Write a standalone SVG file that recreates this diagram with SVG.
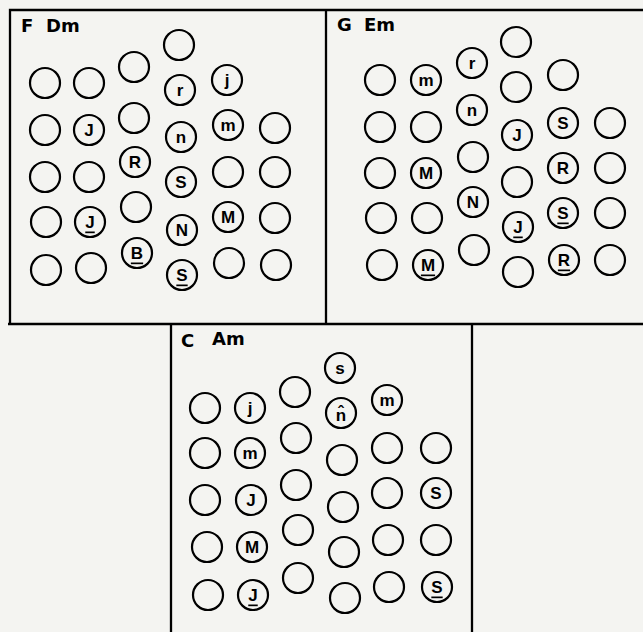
<svg xmlns="http://www.w3.org/2000/svg" width="643" height="632" viewBox="0 0 643 632">
<style>
.bg{fill:#f4f4f1}
.frame{stroke:#000;stroke-width:2.3;fill:none}
.n circle{fill:none;stroke:#000;stroke-width:2.2}
.n text{font-family:"Liberation Sans",Arial,sans-serif;font-weight:bold;font-size:17px;text-anchor:middle;dominant-baseline:central;fill:#000}
.u{text-decoration:underline}
.t{font-family:"DejaVu Sans","Liberation Sans",sans-serif;font-weight:bold;font-size:18px;fill:#000}
</style>
<rect class="bg" x="0" y="0" width="643" height="632"/>
<g id="frames">
<path class="frame" d="M10,325 V10 H643 M326,10 V324 M8,324 H643 M171,324 V632 M472,324 V632"/>
</g>
<g id="titles">
<text class="t" x="21" y="32">F</text><text class="t" x="46" y="32">Dm</text>
<text class="t" x="337" y="31">G</text><text class="t" x="364" y="31">Em</text>
<text class="t" x="181" y="347">C</text><text class="t" x="212" y="345">Am</text>
</g>
<g id="box1">
<g class="n" id="b1c1r1"><circle cx="45" cy="83" r="15"/></g>
<g class="n" id="b1c1r2"><circle cx="45" cy="130" r="15"/></g>
<g class="n" id="b1c1r3"><circle cx="45" cy="177" r="15"/></g>
<g class="n" id="b1c1r4"><circle cx="46" cy="222" r="15"/></g>
<g class="n" id="b1c1r5"><circle cx="46" cy="270" r="15"/></g>
<g class="n" id="b1c2r1"><circle cx="89" cy="83" r="15"/></g>
<g class="n" id="b1c2r2"><circle cx="89" cy="130" r="15"/><text x="89" y="130">J</text></g>
<g class="n" id="b1c2r3"><circle cx="89" cy="177" r="15"/></g>
<g class="n" id="b1c2r4"><circle cx="90" cy="222" r="15"/><text class="u" x="90" y="222">J</text></g>
<g class="n" id="b1c2r5"><circle cx="91" cy="268" r="15"/></g>
<g class="n" id="b1c3r1"><circle cx="134" cy="67" r="15"/></g>
<g class="n" id="b1c3r2"><circle cx="134" cy="118" r="15"/></g>
<g class="n" id="b1c3r3"><circle cx="135" cy="162" r="15"/><text x="135" y="162">R</text></g>
<g class="n" id="b1c3r4"><circle cx="136" cy="207" r="15"/></g>
<g class="n" id="b1c3r5"><circle cx="137" cy="253" r="15"/><text class="u" x="137" y="253">B</text></g>
<g class="n" id="b1c4r1"><circle cx="179" cy="45" r="15"/></g>
<g class="n" id="b1c4r2"><circle cx="180" cy="90" r="15"/><text x="180" y="90">r</text></g>
<g class="n" id="b1c4r3"><circle cx="181" cy="137" r="15"/><text x="181" y="137">n</text></g>
<g class="n" id="b1c4r4"><circle cx="181" cy="182" r="15"/><text x="181" y="182">S</text></g>
<g class="n" id="b1c4r5"><circle cx="182" cy="230" r="15"/><text x="182" y="230">N</text></g>
<g class="n" id="b1c4r6"><circle cx="182" cy="275" r="15"/><text class="u" x="182" y="275">S</text></g>
<g class="n" id="b1c5r1"><circle cx="227" cy="80" r="15"/><text x="227" y="80">j</text></g>
<g class="n" id="b1c5r2"><circle cx="228" cy="125" r="15"/><text x="228" y="125">m</text></g>
<g class="n" id="b1c5r3"><circle cx="228" cy="172" r="15"/></g>
<g class="n" id="b1c5r4"><circle cx="228" cy="217" r="15"/><text x="228" y="217">M</text></g>
<g class="n" id="b1c5r5"><circle cx="229" cy="263" r="15"/></g>
<g class="n" id="b1c6r2"><circle cx="275" cy="128" r="15"/></g>
<g class="n" id="b1c6r3"><circle cx="275" cy="172" r="15"/></g>
<g class="n" id="b1c6r4"><circle cx="275" cy="218" r="15"/></g>
<g class="n" id="b1c6r5"><circle cx="276" cy="265" r="15"/></g>
</g>
<g id="box2">
<g class="n" id="b2c1r1"><circle cx="380" cy="80" r="15"/></g>
<g class="n" id="b2c1r2"><circle cx="380" cy="127" r="15"/></g>
<g class="n" id="b2c1r3"><circle cx="380" cy="173" r="15"/></g>
<g class="n" id="b2c1r4"><circle cx="381" cy="218" r="15"/></g>
<g class="n" id="b2c1r5"><circle cx="382" cy="265" r="15"/></g>
<g class="n" id="b2c2r1"><circle cx="426" cy="80" r="15"/><text x="426" y="80">m</text></g>
<g class="n" id="b2c2r2"><circle cx="426" cy="127" r="15"/></g>
<g class="n" id="b2c2r3"><circle cx="426" cy="173" r="15"/><text x="426" y="173">M</text></g>
<g class="n" id="b2c2r4"><circle cx="427" cy="218" r="15"/></g>
<g class="n" id="b2c2r5"><circle cx="428" cy="265" r="15"/><text class="u" x="428" y="265">M</text></g>
<g class="n" id="b2c3r1"><circle cx="472" cy="63" r="15"/><text x="472" y="63">r</text></g>
<g class="n" id="b2c3r2"><circle cx="472" cy="110" r="15"/><text x="472" y="110">n</text></g>
<g class="n" id="b2c3r3"><circle cx="473" cy="157" r="15"/></g>
<g class="n" id="b2c3r4"><circle cx="473" cy="202" r="15"/><text x="473" y="202">N</text></g>
<g class="n" id="b2c3r5"><circle cx="474" cy="250" r="15"/></g>
<g class="n" id="b2c4r1"><circle cx="516" cy="42" r="15"/></g>
<g class="n" id="b2c4r2"><circle cx="516" cy="87" r="15"/></g>
<g class="n" id="b2c4r3"><circle cx="517" cy="135" r="15"/><text x="517" y="135">J</text></g>
<g class="n" id="b2c4r4"><circle cx="517" cy="182" r="15"/></g>
<g class="n" id="b2c4r5"><circle cx="518" cy="227" r="15"/><text class="u" x="518" y="227">J</text></g>
<g class="n" id="b2c4r6"><circle cx="518" cy="272" r="15"/></g>
<g class="n" id="b2c5r1"><circle cx="563" cy="75" r="15"/></g>
<g class="n" id="b2c5r2"><circle cx="563" cy="123" r="15"/><text x="563" y="123">S</text></g>
<g class="n" id="b2c5r3"><circle cx="563" cy="168" r="15"/><text x="563" y="168">R</text></g>
<g class="n" id="b2c5r4"><circle cx="563" cy="213" r="15"/><text class="u" x="563" y="213">S</text></g>
<g class="n" id="b2c5r5"><circle cx="564" cy="260" r="15"/><text class="u" x="564" y="260">R</text></g>
<g class="n" id="b2c6r2"><circle cx="610" cy="123" r="15"/></g>
<g class="n" id="b2c6r3"><circle cx="610" cy="168" r="15"/></g>
<g class="n" id="b2c6r4"><circle cx="610" cy="213" r="15"/></g>
<g class="n" id="b2c6r5"><circle cx="610" cy="260" r="15"/></g>
</g>
<g id="box3">
<g class="n" id="b3c1r1"><circle cx="205" cy="408" r="15"/></g>
<g class="n" id="b3c1r2"><circle cx="205" cy="453" r="15"/></g>
<g class="n" id="b3c1r3"><circle cx="205" cy="500" r="15"/></g>
<g class="n" id="b3c1r4"><circle cx="207" cy="547" r="15"/></g>
<g class="n" id="b3c1r5"><circle cx="208" cy="595" r="15"/></g>
<g class="n" id="b3c2r1"><circle cx="250" cy="408" r="15"/><text x="250" y="408">j</text></g>
<g class="n" id="b3c2r2"><circle cx="250" cy="453" r="15"/><text x="250" y="453">m</text></g>
<g class="n" id="b3c2r3"><circle cx="251" cy="500" r="15"/><text x="251" y="500">J</text></g>
<g class="n" id="b3c2r4"><circle cx="252" cy="547" r="15"/><text x="252" y="547">M</text></g>
<g class="n" id="b3c2r5"><circle cx="253" cy="595" r="15"/><text class="u" x="253" y="595">J</text></g>
<g class="n" id="b3c3r1"><circle cx="295" cy="392" r="15"/></g>
<g class="n" id="b3c3r2"><circle cx="296" cy="438" r="15"/></g>
<g class="n" id="b3c3r3"><circle cx="296" cy="485" r="15"/></g>
<g class="n" id="b3c3r4"><circle cx="298" cy="530" r="15"/></g>
<g class="n" id="b3c3r5"><circle cx="298" cy="578" r="15"/></g>
<g class="n" id="b3c4r1"><circle cx="340" cy="368" r="15"/><text x="340" y="368">s</text></g>
<g class="n" id="b3c4r2"><circle cx="341" cy="413" r="15"/><text x="341" y="415">n̂</text></g>
<g class="n" id="b3c4r3"><circle cx="342" cy="460" r="15"/></g>
<g class="n" id="b3c4r4"><circle cx="343" cy="507" r="15"/></g>
<g class="n" id="b3c4r5"><circle cx="344" cy="552" r="15"/></g>
<g class="n" id="b3c4r6"><circle cx="345" cy="598" r="15"/></g>
<g class="n" id="b3c5r1"><circle cx="387" cy="400" r="15"/><text x="387" y="400">m</text></g>
<g class="n" id="b3c5r2"><circle cx="387" cy="448" r="15"/></g>
<g class="n" id="b3c5r3"><circle cx="387" cy="493" r="15"/></g>
<g class="n" id="b3c5r4"><circle cx="388" cy="540" r="15"/></g>
<g class="n" id="b3c5r5"><circle cx="389" cy="587" r="15"/></g>
<g class="n" id="b3c6r2"><circle cx="436" cy="448" r="15"/></g>
<g class="n" id="b3c6r3"><circle cx="436" cy="493" r="15"/><text x="436" y="493">S</text></g>
<g class="n" id="b3c6r4"><circle cx="436" cy="540" r="15"/></g>
<g class="n" id="b3c6r5"><circle cx="437" cy="587" r="15"/><text class="u" x="437" y="587">S</text></g>
</g>
</svg>
